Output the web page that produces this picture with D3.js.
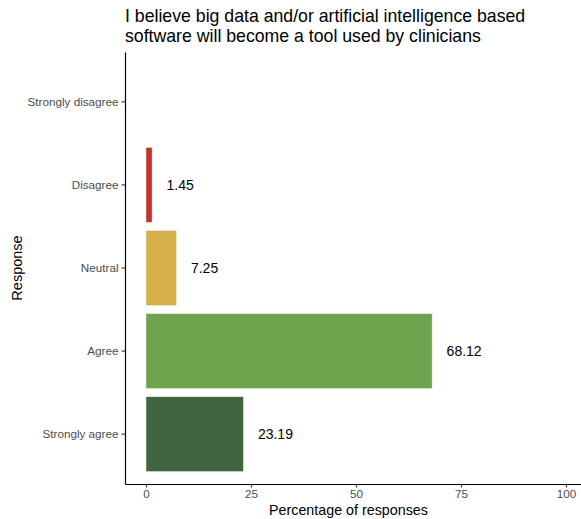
<!DOCTYPE html>
<html><head><meta charset="utf-8">
<script src="https://cdn.jsdelivr.net/npm/d3@7"></script>
<style>body{margin:0;background:#fff}svg{display:block;font-family:"Liberation Sans",Arial,sans-serif}</style>
</head><body>
<svg id="c" width="581" height="519"></svg>
<script>
const categories = ["Strongly disagree","Disagree","Neutral","Agree","Strongly agree"];
const values = [null, 1.45, 7.25, 68.12, 23.19];
const colors = ["#c0392b","#c4302b","#d4af4a","#6da34d","#436441"];
const xTicks = [0,25,50,75,100];
const titleLines = ["I believe big data and/or artificial intelligence based","software will become a tool used by clinicians"];

(function(){
const svg = d3.select("#c");
const pLeft = 125, pRight = 587, pTop = 52, pBottom = 484;
const x = d3.scaleLinear().domain([-5,105]).range([pLeft,pRight]);
const y = d3.scaleBand().domain(categories).range([pTop,pBottom]).paddingInner(0.1).paddingOuter(0.15);

const data = categories.map((c,i)=>({c, v: values[i], col: colors[i]})).filter(d=>d.v!=null);

svg.selectAll("rect.bar").data(data).join("rect")
  .attr("x", x(0)).attr("y", d=>y(d.c))
  .attr("width", d=>x(d.v)-x(0)).attr("height", y.bandwidth())
  .attr("fill", d=>d.col).attr("stroke","#e8eee4").attr("stroke-width",0.5);

svg.selectAll("text.lab").data(data).join("text")
  .attr("x", d=>x(d.v)+14.5).attr("y", d=>y(d.c)+y.bandwidth()/2)
  .attr("dy","0.35em").attr("font-size",14).attr("fill","#000").text(d=>d.v.toFixed(2));

const xAxis = svg.append("g").attr("transform",`translate(0,${pBottom})`)
  .call(d3.axisBottom(x).tickValues(xTicks).tickSize(3.5).tickSizeOuter(0).tickPadding(2.5));
const yAxis = svg.append("g").attr("transform",`translate(${pLeft},0)`)
  .call(d3.axisLeft(y).tickSize(3.5).tickSizeOuter(0).tickPadding(3));
[xAxis,yAxis].forEach(g=>{
  g.select(".domain").attr("stroke","#000").attr("stroke-width",1.2);
  g.selectAll(".tick line").attr("stroke","#333").attr("stroke-width",1.1);
  g.selectAll(".tick text").attr("fill","#4d4d4d").attr("font-size",11.7).attr("font-family","Liberation Sans, Arial, sans-serif");
});

svg.append("text").attr("x",(pLeft+566)/2+3).attr("y",515).attr("text-anchor","middle")
  .attr("font-size",14.3).attr("fill","#000").text("Percentage of responses");
svg.append("text").attr("transform",`translate(22,${(pTop+pBottom)/2}) rotate(-90)`).attr("text-anchor","middle")
  .attr("font-size",14.5).attr("fill","#000").text("Response");
svg.append("text").attr("x",pLeft).attr("y",22).attr("font-size",17.7).attr("fill","#000")
  .selectAll("tspan").data(titleLines).join("tspan").attr("x",pLeft).attr("dy",(d,i)=>i?20:0).text(d=>d);
})();
</script>
</body></html>
